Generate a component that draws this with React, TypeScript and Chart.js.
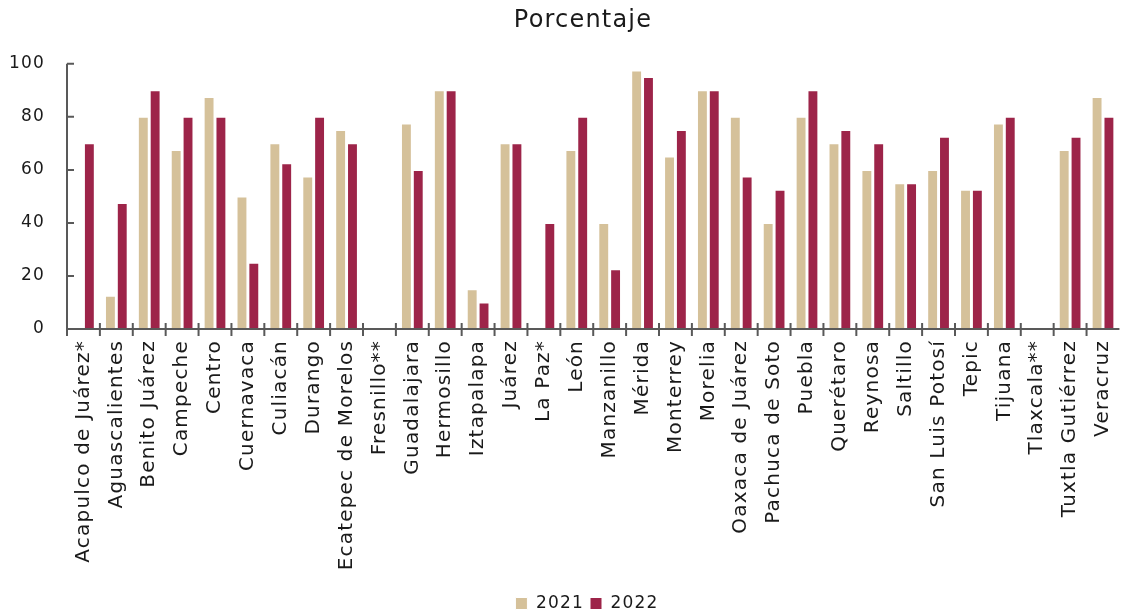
import React, { useEffect, useRef } from "react";
import { Chart, registerables } from "chart.js";

Chart.register(...registerables);

const categories: string[] = [
  "Acapulco de Juárez*", "Aguascalientes", "Benito Juárez", "Campeche", "Centro",
  "Cuernavaca", "Culiacán", "Durango", "Ecatepec de Morelos", "Fresnillo**",
  "Guadalajara", "Hermosillo", "Iztapalapa", "Juárez", "La Paz*", "León",
  "Manzanillo", "Mérida", "Monterrey", "Morelia", "Oaxaca de Juárez",
  "Pachuca de Soto", "Puebla", "Querétaro", "Reynosa", "Saltillo",
  "San Luis Potosí", "Tepic", "Tijuana", "Tlaxcala**", "Tuxtla Gutiérrez", "Veracruz",
];

const values2021: (number | null)[] = [
  null, 12.5, 80, 67.5, 87.5, 50, 70, 57.5, 75, null,
  77.5, 90, 15, 70, null, 67.5, 40, 97.5, 65, 90, 80,
  40, 80, 70, 60, 55, 60, 52.5, 77.5, null, 67.5, 87.5,
];

const values2022: (number | null)[] = [
  70, 47.5, 90, 80, 80, 25, 62.5, 80, 70, null,
  60, 90, 10, 70, 40, 80, 22.5, 95, 75, 90, 57.5,
  52.5, 90, 75, 70, 55, 72.5, 52.5, 80, null, 72.5, 80,
];

const yTicks: number[] = [0, 20, 40, 60, 80, 100];

const FONT = "'DejaVu Sans', sans-serif";
const AXIS = "#595959";
const TEXT = "#1a1a1a";
const SPACING = "1.2px";

const spacingPlugin = {
  id: "letterSpacing",
  beforeUpdate(chart: any) {
    chart.ctx.letterSpacing = SPACING;
  },
  beforeLayout(chart: any) {
    chart.ctx.letterSpacing = SPACING;
  },
  beforeDraw(chart: any) {
    chart.ctx.letterSpacing = SPACING;
  },
  afterLayout(chart: any) {
    if (chart.legend) {
      chart.legend.left = 36;
      chart.legend.top += 9;
    }
    if (chart.titleBlock) {
      chart.titleBlock.left = 28;
    }
  },
};

const tickPlugin = {
  id: "customTicks",
  afterDraw(chart: any) {
    const { ctx, chartArea } = chart;
    const xs = chart.scales.x;
    const ys = chart.scales.y;
    ctx.save();
    ctx.strokeStyle = AXIS;
    ctx.lineWidth = 2;
    ctx.beginPath();
    ctx.moveTo(chartArea.left, ys.getPixelForValue(100));
    ctx.lineTo(chartArea.left, chartArea.bottom + 7);
    ctx.moveTo(chartArea.left, chartArea.bottom);
    ctx.lineTo(chartArea.right, chartArea.bottom);
    ctx.stroke();
    ctx.beginPath();
    for (const v of yTicks) {
      const py = ys.getPixelForValue(v);
      ctx.moveTo(chartArea.left, py);
      ctx.lineTo(chartArea.left + 7, py);
    }
    const n = categories.length;
    for (let i = 1; i < n; i++) {
      const px = (xs.getPixelForValue(i - 1) + xs.getPixelForValue(i)) / 2;
      ctx.moveTo(px, chartArea.bottom - 6);
      ctx.lineTo(px, chartArea.bottom + 7);
    }
    ctx.stroke();
    ctx.restore();
  },
};

export default function App() {
  const ref = useRef<HTMLCanvasElement | null>(null);
  useEffect(() => {
    if (!ref.current) return;
    const chart = new Chart(ref.current, {
      type: "bar",
      data: {
        labels: categories,
        datasets: [
          {
            label: "2021",
            data: values2021,
            backgroundColor: "#D5C19A",
            borderColor: "#ffffff",
            borderWidth: 1,
            categoryPercentage: 0.72,
            barPercentage: 0.92,
          },
          {
            label: "2022",
            data: values2022,
            backgroundColor: "#9D2449",
            borderColor: "#ffffff",
            borderWidth: 1,
            categoryPercentage: 0.72,
            barPercentage: 0.92,
          },
        ],
      },
      options: {
        animation: false,
        responsive: true,
        maintainAspectRatio: false,
        layout: { padding: { left: 0, right: 0, top: 0, bottom: 0 } },
        plugins: {
          title: {
            display: true,
            text: "Porcentaje",
            color: TEXT,
            font: { family: FONT, size: 24, weight: "normal" },
            padding: { top: 6, bottom: 29 },
          },
          legend: {
            position: "bottom",
            labels: {
              color: TEXT,
              font: { family: FONT, size: 17 },
              boxWidth: 12,
              boxHeight: 12,
              padding: 6,
            },
          },
          tooltip: { enabled: false },
        },
        scales: {
          x: {
            grid: { display: false, drawTicks: false },
            border: { display: false },
            afterFit: (scale: any) => {
              scale.height = 251;
            },
            ticks: {
              color: TEXT,
              font: { family: FONT, size: 20 },
              maxRotation: 90,
              minRotation: 90,
              padding: 11,
              autoSkip: false,
            },
          },
          y: {
            min: 0,
            max: 100,
            afterBuildTicks: (axis: any) => {
              axis.ticks = yTicks.map((v) => ({ value: v }));
            },
            afterFit: (scale: any) => {
              scale.width = 67;
            },
            grid: { display: false, drawTicks: false },
            border: { display: false },
            ticks: {
              color: TEXT,
              font: { family: FONT, size: 17 },
              padding: 22,
            },
          },
        },
      },
      plugins: [spacingPlugin, tickPlugin],
    });
    return () => chart.destroy();
  }, []);
  return (
    <div style={{ position: "fixed", left: 0, top: 0, width: 1138, height: 613, background: "#fff" }}>
      <canvas ref={ref} />
    </div>
  );
}
